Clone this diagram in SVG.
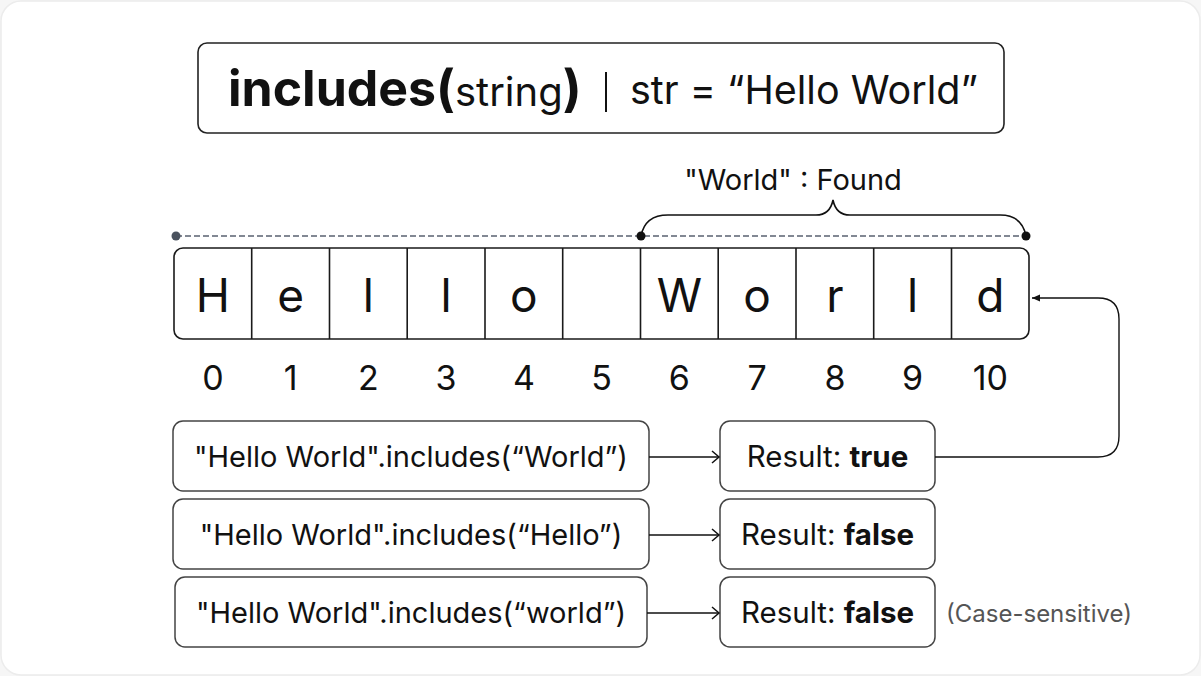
<svg xmlns="http://www.w3.org/2000/svg" width="1201" height="676" viewBox="0 0 1201 676">
<defs>
<style>
text{font-family:Inter,"Noto Sans","Liberation Sans",sans-serif;fill:#111}
.box{fill:#fff;stroke:#444;stroke-width:1.5}
.cell{fill:none;stroke:#1a1a1a;stroke-width:1.6}
.ch{font-size:46px;text-anchor:middle}
.idx{font-size:34px;text-anchor:middle}
.code{font-size:29px;text-anchor:middle}
.res{font-size:29.5px;text-anchor:middle}
.b{font-weight:700}
.conn{fill:none;stroke:#111;stroke-width:1.4}
</style>
<marker id="open" markerWidth="12" markerHeight="14" refX="10" refY="7" orient="auto" markerUnits="userSpaceOnUse">
<path d="M3,1 L10,7 L3,13" fill="none" stroke="#111" stroke-width="1.5"/>
</marker>
<marker id="solid" markerWidth="10" markerHeight="10" refX="8" refY="5" orient="auto" markerUnits="userSpaceOnUse">
<path d="M0,1.5 L8,5 L0,8.5 z" fill="#111"/>
</marker>
</defs>
<rect x="0" y="0" width="1201" height="676" fill="#f6f6f6"/>
<rect x="1" y="1" width="1199" height="674" rx="20" fill="#fff" stroke="#ececec" stroke-width="1.5"/>

<g id="title">
<rect x="198" y="43" width="806" height="90" rx="9" fill="#fff" stroke="#222" stroke-width="1.6"/>
<text x="228" y="106" style="font-size:50px"><tspan class="b">includes(</tspan><tspan style="font-size:40px">string</tspan><tspan class="b">)</tspan></text>
<line x1="606" y1="72" x2="606" y2="112" stroke="#111" stroke-width="2"/>
<text x="630" y="104" style="font-size:39.5px">str = “Hello World”</text>
</g>

<g id="range">
<line x1="176" y1="236" x2="1026" y2="236" stroke="#5a6270" stroke-width="1.6" stroke-dasharray="6,3"/>
<circle cx="176" cy="236" r="4.5" fill="#4a525e"/>
<circle cx="641" cy="236" r="4.5" fill="#111"/>
<circle cx="1026" cy="236" r="4.5" fill="#111"/>
<path d="M641,236 Q645,215 668,215 H816 Q830,215 833,200 Q836,215 850,215 H1000 Q1022,215 1026,236" fill="none" stroke="#111" stroke-width="1.6"/>
<text x="793" y="190" style="font-size:29px;text-anchor:middle">"World" : Found</text>
</g>

<g id="array">
<rect x="174" y="248" width="855" height="91" rx="9" class="cell"/>
<path class="cell" d="M251.7,248V339M329.5,248V339M407.2,248V339M485,248V339M562.7,248V339M640.5,248V339M718.2,248V339M796,248V339M873.7,248V339M951.5,248V339"/>
<text class="ch" x="212.9" y="312">H</text>
<text class="ch" x="290.6" y="312">e</text>
<text class="ch" x="368.4" y="312">l</text>
<text class="ch" x="446.1" y="312">l</text>
<text class="ch" x="523.9" y="312">o</text>
<text class="ch" x="679.4" y="312">W</text>
<text class="ch" x="757.1" y="312">o</text>
<text class="ch" x="834.9" y="312">r</text>
<text class="ch" x="912.6" y="312">l</text>
<text class="ch" x="990.3" y="312">d</text>
</g>

<g id="indices">
<text class="idx" x="212.9" y="390">0</text>
<text class="idx" x="290.6" y="390">1</text>
<text class="idx" x="368.4" y="390">2</text>
<text class="idx" x="446.1" y="390">3</text>
<text class="idx" x="523.9" y="390">4</text>
<text class="idx" x="601.6" y="390">5</text>
<text class="idx" x="679.4" y="390">6</text>
<text class="idx" x="757.1" y="390">7</text>
<text class="idx" x="834.9" y="390">8</text>
<text class="idx" x="912.6" y="390">9</text>
<text class="idx" x="990.3" y="390">10</text>
</g>

<g id="call1">
<rect class="box" x="173" y="421" width="476" height="70" rx="10"/>
<text class="code" x="411" y="467">"Hello World".includes(“World”)</text>
</g>
<g id="result1">
<rect class="box" x="720" y="421" width="215" height="70" rx="10"/>
<text class="res" x="827.5" y="467">Result: <tspan class="b">true</tspan></text>
</g>
<g id="call2">
<rect class="box" x="173" y="499" width="476" height="70" rx="10"/>
<text class="code" x="411" y="545">"Hello World".includes(“Hello”)</text>
</g>
<g id="result2">
<rect class="box" x="720" y="499" width="215" height="70" rx="10"/>
<text class="res" x="827.5" y="545">Result: <tspan class="b">false</tspan></text>
</g>
<g id="call3">
<rect class="box" x="175" y="577" width="472" height="70" rx="10"/>
<text class="code" x="411" y="623">"Hello World".includes(“world”)</text>
</g>
<g id="result3">
<rect class="box" x="720" y="577" width="215" height="70" rx="10"/>
<text class="res" x="827.5" y="623">Result: <tspan class="b">false</tspan></text>
</g>
<text id="note" x="946" y="622" style="font-size:24px;fill:#555">(Case-sensitive)</text>

<g id="connectors">
<line class="conn" x1="649" y1="457" x2="719" y2="457" marker-end="url(#open)"/>
<line class="conn" x1="649" y1="535" x2="719" y2="535" marker-end="url(#open)"/>
<line class="conn" x1="647" y1="613" x2="719" y2="613" marker-end="url(#open)"/>
<path class="conn" d="M935,457 H1098 Q1119,457 1119,436 V319 Q1119,298 1098,298 H1032" marker-end="url(#solid)"/>
</g>
</svg>
